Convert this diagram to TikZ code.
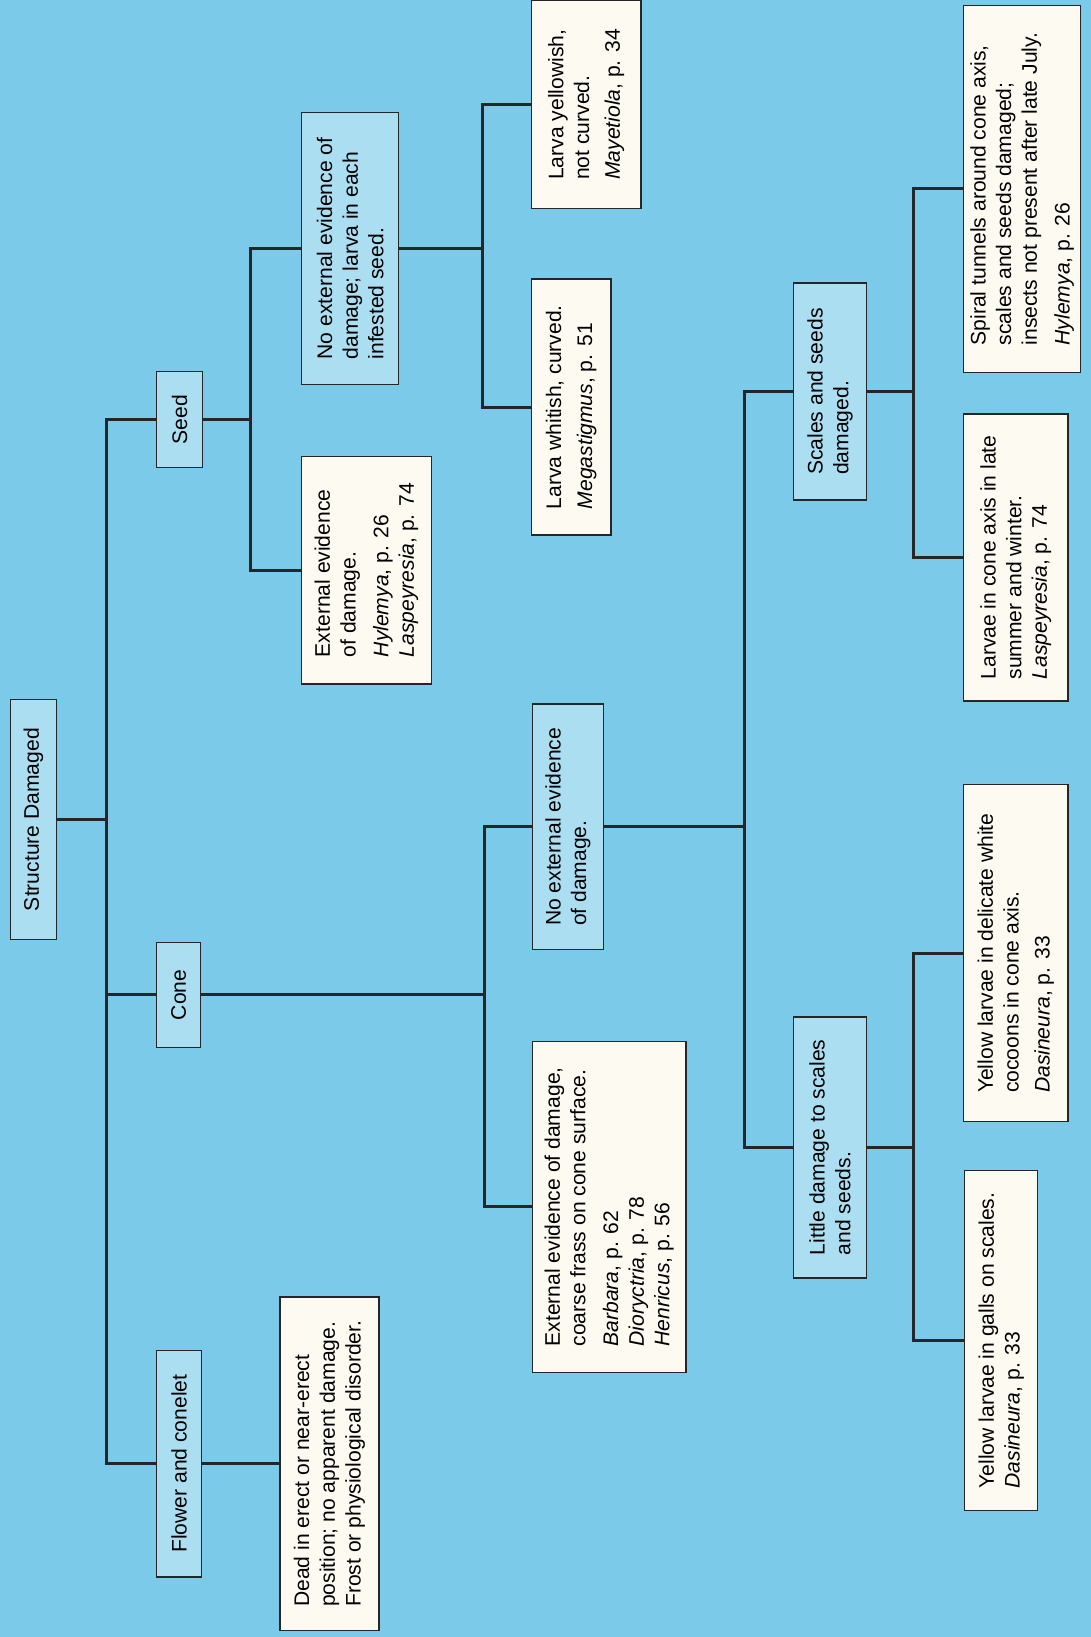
\documentclass[tikz,border=0pt]{standalone}
\usepackage{fontspec}
\setmainfont{Liberation Sans}
\definecolor{SkyBlue}{RGB}{124,202,234}
\definecolor{PaleBlue}{RGB}{172,222,242}
\definecolor{Paper}{RGB}{253,250,242}
\newcommand\treefont{\fontsize{12}{14.6}\selectfont}
\tikzset{
  catbox/.style={draw=black!85,line width=0.8pt,fill=PaleBlue,rotate=90,
    align=left,inner sep=0pt,font=\treefont},
  leafbox/.style={catbox,fill=Paper},
  link/.style={line width=1.7pt,black!85}
}
\begin{document}
\begin{tikzpicture}[x=0.02088cm,y=-0.02088cm]
  \useasboundingbox (0,0) rectangle (1045,1568);
  \fill[SkyBlue] (0,0) rectangle (1045,1568);
  % first level
  \node[catbox,minimum width=4.80cm,minimum height=0.92cm] (root) at (32,785) {Structure Damaged};
  \node[catbox,minimum width=1.92cm,minimum height=0.92cm] (seed) at (172,402) {Seed};
  \node[catbox,minimum width=2.09cm,minimum height=0.88cm] (cone) at (171,953) {Cone};
  \node[catbox,minimum width=4.53cm,minimum height=0.90cm] (flower) at (171.5,1402) {Flower and conelet};
  % seed branch
  \node[catbox,minimum width=5.43cm,minimum height=1.94cm] (seedsub) at (335.5,238)
    {No external evidence of\\damage; larva in each\\infested seed.};
  \node[leafbox,minimum width=4.55cm,minimum height=2.59cm] (seedext) at (351,546)
    {External evidence\\of damage.\\[4pt]\textit{Hylemya}, p. 26\\\textit{Laspeyresia}, p. 74};
  \node[leafbox,minimum width=5.12cm,minimum height=1.59cm] (whitish) at (547,390)
    {Larva whitish, curved.\\[3pt]\textit{Megastigmus}, p. 51};
  \node[leafbox,minimum width=4.16cm,minimum height=2.19cm] (yellowish) at (561.5,100)
    {Larva yellowish,\\not curved.\\[3pt]\textit{Mayetiola}, p. 34};
  % cone branch
  \node[catbox,minimum width=4.91cm,minimum height=1.42cm] (conenoext) at (544,792)
    {No external evidence\\of damage.};
  \node[leafbox,minimum width=6.62cm,minimum height=3.07cm] (coneext) at (583.5,1156)
    {External evidence of damage,\\coarse frass on cone surface.\\[4pt]\textit{Barbara}, p. 62\\\textit{Dioryctria}, p. 78\\\textit{Henricus}, p. 56};
  \node[catbox,minimum width=4.34cm,minimum height=1.46cm] (scales) at (795,375)
    {Scales and seeds\\damaged.};
  \node[catbox,minimum width=5.22cm,minimum height=1.46cm] (little) at (795,1099)
    {Little damage to scales\\and seeds.};
  \node[leafbox,minimum width=5.74cm,minimum height=2.09cm] (larvae) at (973,534)
    {Larvae in cone axis in late\\summer and winter.\\\textit{Laspeyresia}, p. 74};
  \node[leafbox,minimum width=7.33cm,minimum height=2.34cm] (spiral) at (979,181)
    {Spiral tunnels around cone axis,\\scales and seeds damaged;\\insects not present after late July.\\[4pt]\textit{Hylemya}, p. 26};
  \node[leafbox,minimum width=6.74cm,minimum height=2.09cm] (cocoons) at (973,913)
    {Yellow larvae in delicate white\\cocoons in cone axis.\\[3pt]\textit{Dasineura}, p. 33};
  \node[leafbox,minimum width=6.79cm,minimum height=1.46cm] (galls) at (959,1284)
    {Yellow larvae in galls on scales.\\\textit{Dasineura}, p. 33};
  % flower branch
  \node[leafbox,minimum width=6.66cm,minimum height=1.98cm] (dead) at (315.5,1402)
    {Dead in erect or near-erect\\position; no apparent damage.\\Frost or physiological disorder.};
  % bus points
  \coordinate (b0) at (102,785);
  \coordinate (b1) at (240,402);
  \coordinate (b2) at (462,238);
  \coordinate (b3) at (464,953);
  \coordinate (b4) at (713,792);
  \coordinate (b5) at (875,375);
  \coordinate (b6) at (875,1099);
  % connectors
  \draw[link] (root.south) -- (b0);
  \foreach \n in {seed,cone,flower} \draw[link] (b0) |- (\n.north);
  \draw[link] (seed.south) -- (b1);
  \foreach \n in {seedsub,seedext} \draw[link] (b1) |- (\n.north);
  \draw[link] (seedsub.south) -- (b2);
  \foreach \n in {whitish,yellowish} \draw[link] (b2) |- (\n.north);
  \draw[link] (cone.south) -- (b3);
  \foreach \n in {conenoext,coneext} \draw[link] (b3) |- (\n.north);
  \draw[link] (conenoext.south) -- (b4);
  \foreach \n in {scales,little} \draw[link] (b4) |- (\n.north);
  \draw[link] (scales.south) -- (b5);
  \foreach \n in {larvae,spiral} \draw[link] (b5) |- (\n.north);
  \draw[link] (little.south) -- (b6);
  \foreach \n in {cocoons,galls} \draw[link] (b6) |- (\n.north);
  \draw[link] (flower.south) -- (dead.north);
\end{tikzpicture}
\end{document}
